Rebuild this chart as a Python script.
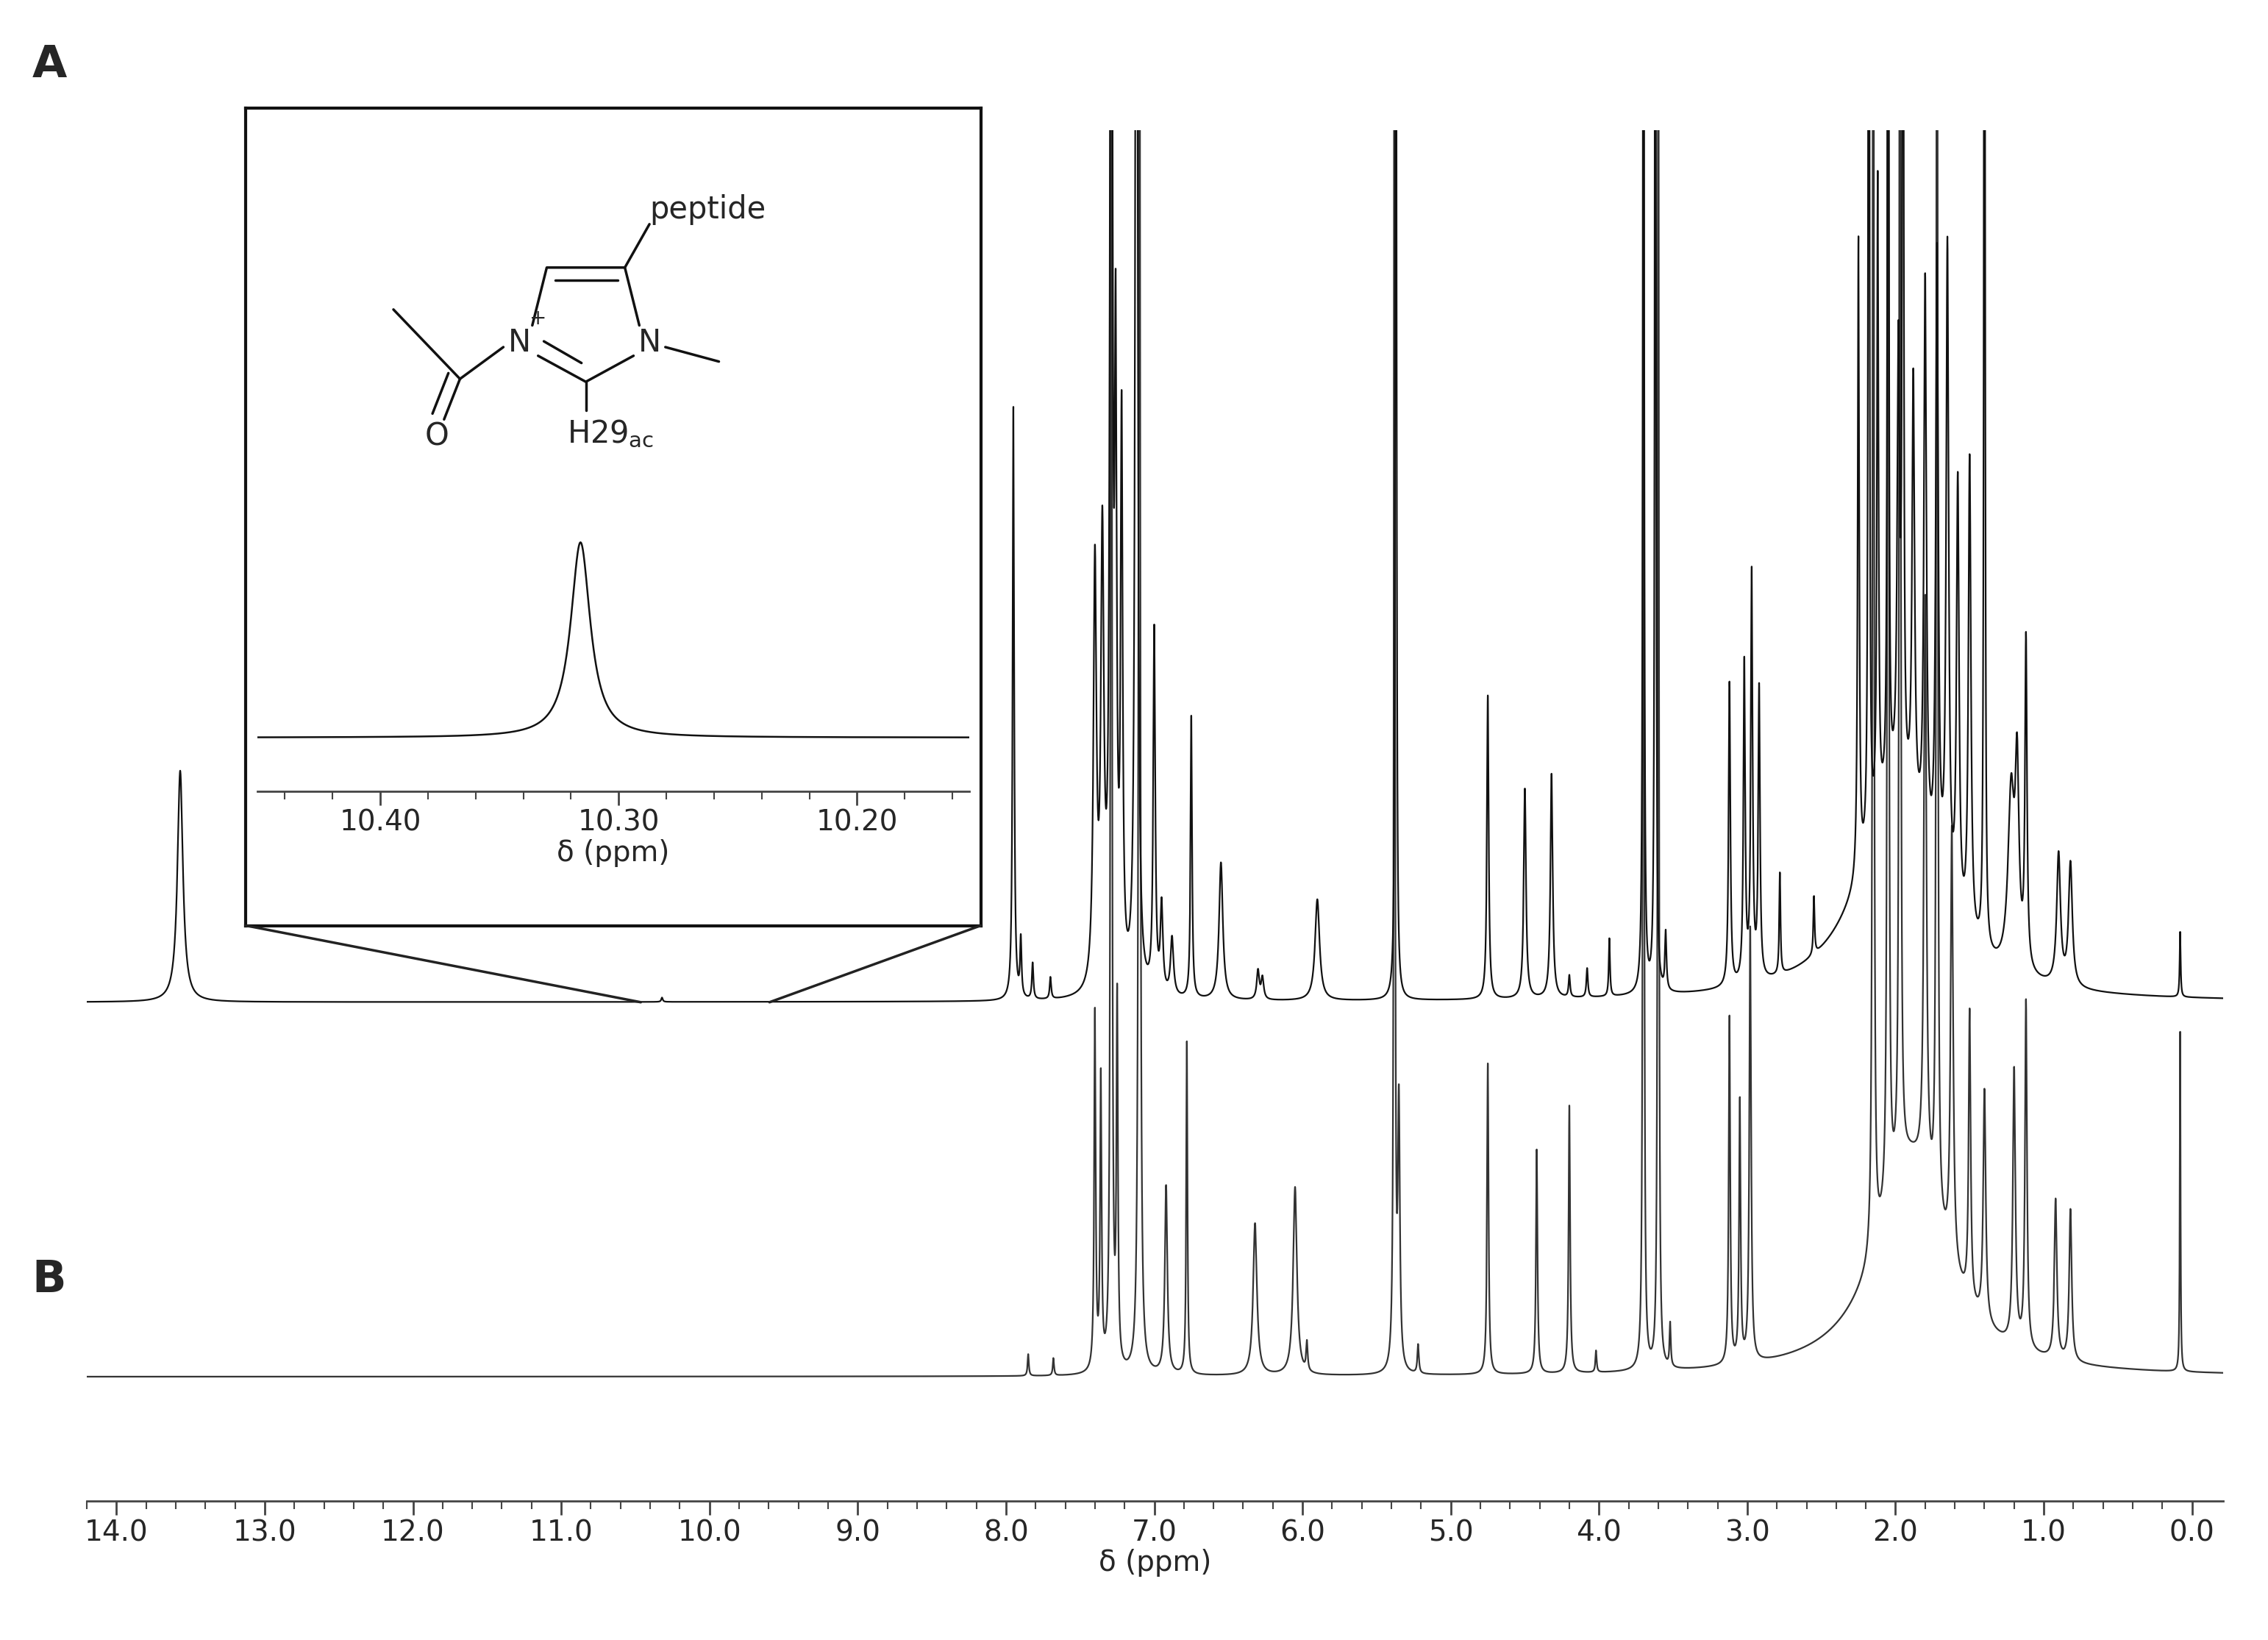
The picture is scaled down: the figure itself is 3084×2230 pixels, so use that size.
import numpy as np, pandas as pd, matplotlib
matplotlib.use("Agg")
import matplotlib.pyplot as plt, seaborn as sns

sns.set_theme(style="white")
plt.rcParams['font.family'] = ['DejaVu Sans']

# Peak lists (ppm, height, width)
A_pos = [13.57,10.32,7.95,7.90,7.82,7.70,7.40,7.35,7.29,7.26,7.22,7.12,7.00,6.95,6.88,6.75,6.55,6.30,6.27,5.90,5.37,4.75,4.50,4.32,4.20,4.08,3.93,3.70,3.62,3.55,3.12,3.02,2.97,2.92,2.78,2.55,2.25,2.18,2.12,2.05,1.98,1.95,1.88,1.80,1.72,1.65,1.58,1.50,1.40,1.22,1.18,1.12,0.90,0.82,0.08,2.0]
A_h   = [160,3,410,40,25,15,290,300,1200,400,380,1200,250,60,40,195,95,20,15,70,1200,210,145,155,15,20,40,1200,1200,40,210,220,280,200,70,40,440,1200,440,1200,300,1200,300,390,430,450,300,330,1200,120,130,225,90,85,45,140]
A_w   = [0.022,0.006,0.006,0.006,0.006,0.006,0.012,0.012,0.008,0.008,0.008,0.008,0.008,0.01,0.012,0.006,0.015,0.01,0.01,0.018,0.004,0.007,0.009,0.009,0.006,0.006,0.005,0.004,0.004,0.006,0.007,0.007,0.007,0.007,0.005,0.005,0.006,0.004,0.006,0.004,0.01,0.004,0.01,0.01,0.01,0.01,0.01,0.01,0.004,0.025,0.015,0.008,0.015,0.015,0.004,0.3]
B_pos = [7.85,7.68,7.40,7.36,7.29,7.25,7.10,6.92,6.78,6.32,6.05,5.97,5.38,5.35,5.22,4.75,4.42,4.20,4.02,3.70,3.60,3.52,3.12,3.05,2.98,2.15,2.05,1.97,1.80,1.72,1.62,1.50,1.40,1.20,1.12,0.92,0.82,0.08,1.9]
B_h   = [15,12,247,200,1200,250,1200,130,230,105,130,20,1200,180,20,215,155,185,15,1200,1200,30,240,180,300,1200,1200,1200,400,1200,300,200,160,190,240,110,105,235,150]
B_w   = [0.005,0.005,0.006,0.006,0.005,0.006,0.006,0.01,0.005,0.015,0.015,0.006,0.004,0.008,0.006,0.006,0.006,0.006,0.005,0.004,0.004,0.005,0.006,0.006,0.007,0.005,0.005,0.005,0.01,0.005,0.01,0.008,0.01,0.01,0.008,0.01,0.01,0.003,0.28]
ticks = [14.0,13.0,12.0,11.0,10.0,9.0,8.0,7.0,6.0,5.0,4.0,3.0,2.0,1.0,0.0]
inset_ticks = [10.40,10.30,10.20]
inset_pos, inset_h, inset_w = [10.316], [135], [0.005]

def spectrum(x, pos, h, w):
    y = np.zeros_like(x)
    for p, hh, ww in zip(pos, h, w):
        y += hh * ww**2 / ((x - p)**2 + ww**2)
    return y

W, H = 1568, 1134
fig = plt.figure(figsize=(30.84, 22.30), dpi=100)
def fax(l, r, t, b):
    return fig.add_axes([l/W, 1-b/H, (r-l)/W, (b-t)/H])

ax = fax(60, 1537, 90, 1038)
x = np.linspace(-0.3, 14.3, 80000)
dfA = pd.DataFrame({"x": x, "y": 345 + spectrum(x, A_pos, A_h, A_w)})
dfB = pd.DataFrame({"x": x, "y": 86 + spectrum(x, B_pos, B_h, B_w)})
sns.lineplot(data=dfB, x="x", y="y", ax=ax, color="#333333", lw=1.6, estimator=None, sort=False)
sns.lineplot(data=dfA, x="x", y="y", ax=ax, color="#111111", lw=1.6, estimator=None, sort=False)
ax.set_xlim(14.18, -0.21); ax.set_ylim(0, 948)
for s in ["top", "left", "right"]: ax.spines[s].set_visible(False)
ax.spines["bottom"].set_color("#444444"); ax.spines["bottom"].set_linewidth(2)
ax.set_yticks([])
ax.set_xticks(ticks); ax.set_xticklabels([f"{t:.1f}" for t in ticks], fontsize=28)
ax.set_xticks(np.arange(0, 14.3, 0.2), minor=True)
ax.tick_params(axis="x", which="major", length=14, width=2, color="#444444", direction="out", bottom=True)
ax.tick_params(axis="x", which="minor", length=8, width=1.5, color="#444444", bottom=True)
ax.set_xlabel("δ (ppm)", fontsize=28, labelpad=2)
ax.set_ylabel("")

for (x0, y0), (x1, y1) in [((170, 640), (443, 693)), ((678, 640), (532, 693))]:
    fig.add_artist(plt.Line2D([x0/W, x1/W], [1-y0/H, 1-y1/H], color="#222222", lw=2.5))

box = fax(170, 678, 75, 640)
box.set_xlim(170, 678); box.set_ylim(640, 75)
box.set_xticks([]); box.set_yticks([]); box.patch.set_alpha(0)
for s in box.spines.values(): s.set_linewidth(3); s.set_color("#111111")
L = dict(color="#111111", lw=2.5)
box.plot([368, 378, 432, 442], [225, 185, 185, 225], **L)   # N+ - C4 = C5 - N
box.plot([384, 427], [194, 194], **L)                      # C4=C5 double bond
box.plot([372, 405, 438], [246, 264, 246], **L)            # N+ - C2 - N
box.plot([376, 402], [236, 251], **L)                      # C2=N+ double bond
box.plot([432, 449], [185, 155], **L)                      # peptide bond
box.plot([460, 497], [240, 250], **L)                      # N-methyl
box.plot([405, 405], [264, 284], **L)                      # C2-H
box.plot([348, 318], [240, 262], **L)                      # N+ - C(O)
box.plot([318, 272], [262, 214], **L)                      # acetyl methyl
box.plot([318, 307], [262, 290], **L)                      # C=O
box.plot([310, 299], [258, 286], **L)
box.text(449, 145, "peptide", fontsize=30, ha="left", va="center")
box.text(359, 237, "N", fontsize=30, ha="center", va="center")
box.text(372, 220, "+", fontsize=20, ha="center", va="center")
box.text(449, 237, "N", fontsize=30, ha="center", va="center")
box.text(302, 302, "O", fontsize=30, ha="center", va="center")
box.text(392, 300, r"H29$_\mathrm{ac}$", fontsize=30, ha="left", va="center")

inax = fax(178, 670, 340, 547)
xi = np.linspace(10.153, 10.4515, 4000)
dfi = pd.DataFrame({"x": xi, "y": 37 + spectrum(xi, inset_pos, inset_h, inset_w)})
sns.lineplot(data=dfi, x="x", y="y", ax=inax, color="#111111", lw=1.8, estimator=None, sort=False)
inax.set_xlim(10.4515, 10.153); inax.set_ylim(0, 207)
inax.patch.set_alpha(0)
for s in ["top", "left", "right"]: inax.spines[s].set_visible(False)
inax.spines["bottom"].set_color("#444444"); inax.spines["bottom"].set_linewidth(2)
inax.set_yticks([]); inax.set_ylabel("")
inax.set_xticks(inset_ticks); inax.set_xticklabels([f"{t:.2f}" for t in inset_ticks], fontsize=28)
inax.set_xticks(np.arange(10.16, 10.45, 0.02), minor=True)
inax.tick_params(axis="x", which="major", length=14, width=2, color="#444444", bottom=True)
inax.tick_params(axis="x", which="minor", length=8, width=1.5, color="#444444", bottom=True)
inax.set_xlabel("δ (ppm)", fontsize=28, labelpad=2)

fig.text(22/W, 1-45/H, "A", fontsize=44, fontweight="bold", va="center")
fig.text(22/W, 1-885/H, "B", fontsize=44, fontweight="bold", va="center")
fig.savefig("out.png", dpi=100, facecolor="white")
